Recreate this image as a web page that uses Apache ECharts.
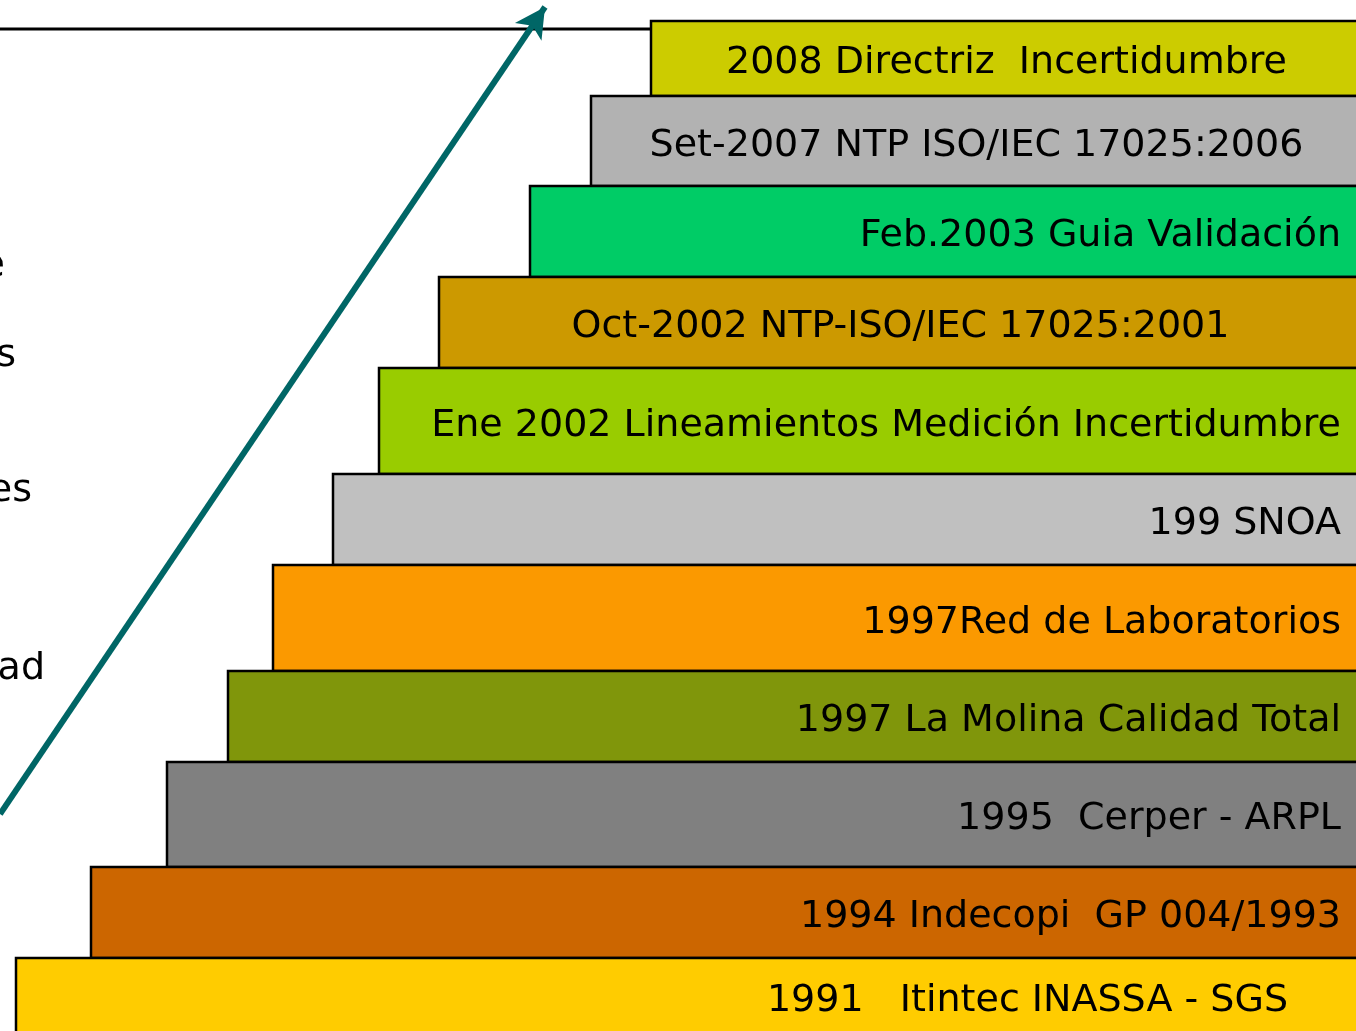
<!DOCTYPE html>
<html>
<head>
<meta charset="utf-8">
<script src="https://cdn.jsdelivr.net/npm/echarts@6/dist/echarts.min.js"></script>
<style>
  html, body { margin: 0; padding: 0; background: #fff; }
  #chart { width: 1356px; height: 1031px; }
</style>
</head>
<body>
<div id="chart"></div>
<script>
'use strict'

// peldaños de la escalera, de arriba hacia abajo
const steps = [
  '2008 Directriz  Incertidumbre',
  'Set-2007 NTP ISO/IEC 17025:2006',
  'Feb.2003 Guia Validación',
  'Oct-2002 NTP-ISO/IEC 17025:2001',
  'Ene 2002 Lineamientos Medición Incertidumbre',
  '199 SNOA',
  '1997Red de Laboratorios',
  '1997 La Molina Calidad Total',
  '1995  Cerper - ARPL',
  '1994 Indecopi  GP 004/1993',
  '1991   Itintec INASSA - SGS'
];
const stepStart = [651, 591, 530, 439, 379, 333, 273, 228, 167, 91, 16];
const stepTop = [21, 96, 186, 277, 368, 474, 565, 671, 762, 867, 958];
const stepBottom = [96, 186, 277, 368, 474, 565, 671, 762, 867, 958, 1034];
const stepEnd = 1362;

// textos cortados a la izquierda
const sideTexts = ['e', 's', 'es', 'ad'];
const sideRight = [5, 16, 32, 45];
const sideY = [266, 356, 491, 669];

// linea de tope y flecha
const topLine = [[0, 29], [651, 29]];
const arrowFrom = [0, 814];
const arrowTo = [545, 7];

const palette = ['#cccc00', '#b2b2b2', '#00cc66', '#cc9900', '#99cc00', '#c0c0c0',
  '#fb9900', '#80960b', '#808080', '#cc6600', '#ffcc00'];
// alineacion del texto en cada peldaño
const textAlign = ['center', 'center', 'right', 'center', 'right', 'right', 'right', 'right', 'right', 'right', 'right'];
const textRight = [1341, 1341, 1341, 1341, 1341, 1341, 1341, 1341, 1341, 1341, 1288];

const font = '"DejaVu Sans", Verdana, sans-serif';
const fontSize = 38;

let myChart = echarts.init(document.getElementById('chart'));

let option = {
  animation: false,
  grid: { left: 0, right: 0, top: 0, bottom: 0 },
  xAxis: { type: 'value', min: 0, max: 1356, show: false },
  yAxis: { type: 'value', min: 0, max: 1031, inverse: true, show: false },
  series: [
    {
      type: 'custom',
      clip: false,
      data: steps.map((s, i) => [stepStart[i], stepTop[i], stepBottom[i], i]),
      renderItem: (params, api) => {
        let i = api.value(3);
        let p0 = api.coord([api.value(0), api.value(1)]);
        let p1 = api.coord([stepEnd, api.value(2)]);
        let tx, ty = (p0[1] + p1[1]) / 2 + 5;
        if (textAlign[i] === 'center') {
          tx = (p0[0] + p1[0]) / 2;
        } else {
          tx = api.coord([textRight[i], 0])[0];
        }
        return {
          type: 'group',
          children: [
            {
              type: 'rect',
              shape: { x: p0[0], y: p0[1], width: p1[0] - p0[0], height: p1[1] - p0[1] },
              style: { fill: palette[i], stroke: '#000', lineWidth: 2.5 }
            },
            {
              type: 'text',
              style: {
                x: tx, y: ty, text: steps[i],
                align: textAlign[i], verticalAlign: 'middle',
                font: fontSize + 'px ' + font, fill: '#000'
              }
            }
          ]
        };
      }
    },
    {
      type: 'custom',
      clip: false,
      data: sideTexts.map((t, i) => [sideRight[i], sideY[i], i]),
      renderItem: (params, api) => {
        let p = api.coord([api.value(0), api.value(1)]);
        return {
          type: 'text',
          style: {
            x: p[0], y: p[1], text: sideTexts[api.value(2)],
            align: 'right', verticalAlign: 'middle',
            font: fontSize + 'px ' + font, fill: '#000'
          }
        };
      }
    },
    {
      type: 'line',
      data: topLine,
      symbol: 'none',
      lineStyle: { color: '#000', width: 3 },
      z: 1,
      markLine: {
        silent: true,
        symbol: ['none', 'arrow'],
        symbolSize: [24, 30],
        label: { show: false },
        lineStyle: { color: '#006666', width: 6, type: 'solid' },
        data: [[{ coord: arrowFrom }, { coord: arrowTo }]]
      }
    }
  ]
};

myChart.setOption(option);
</script>
</body>
</html>
